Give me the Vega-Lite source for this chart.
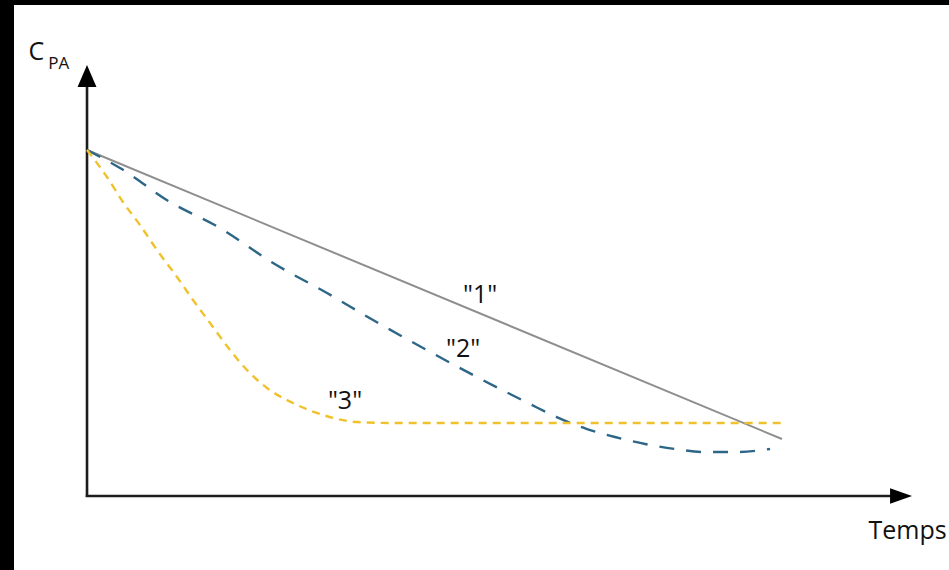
{
  "$schema": "https://vega.github.io/schema/vega-lite/v6.json",
  "width": 940,
  "height": 570,
  "autosize": {"type": "none"},
  "padding": {"left": 14, "top": 5, "right": 0, "bottom": 0},
  "background": "black",
  "config": {"view": {"stroke": null, "fill": "white"}},
  "datasets": {
    "curves": [
      {"serie": "1", "t": 0, "c": 80},
      {"serie": "1", "t": 84.24, "c": 13.18},
      {"serie": "2", "t": 0, "c": 80},
      {"serie": "2", "t": 4.0, "c": 75.84},
      {"serie": "2", "t": 10.06, "c": 67.98},
      {"serie": "2", "t": 16.12, "c": 61.97},
      {"serie": "2", "t": 22.55, "c": 53.87},
      {"serie": "2", "t": 29.09, "c": 46.94},
      {"serie": "2", "t": 34.67, "c": 40.69},
      {"serie": "2", "t": 40.73, "c": 34.22},
      {"serie": "2", "t": 47.27, "c": 27.51},
      {"serie": "2", "t": 53.7, "c": 21.27},
      {"serie": "2", "t": 57.0, "c": 18.2},
      {"serie": "2", "t": 60.61, "c": 15.49},
      {"serie": "2", "t": 64.0, "c": 13.64},
      {"serie": "2", "t": 67.64, "c": 12.02},
      {"serie": "2", "t": 71.27, "c": 10.87},
      {"serie": "2", "t": 74.91, "c": 10.17},
      {"serie": "2", "t": 78.55, "c": 10.17},
      {"serie": "2", "t": 82.79, "c": 10.87},
      {"serie": "3", "t": 0, "c": 80},
      {"serie": "3", "t": 2.42, "c": 73.76},
      {"serie": "3", "t": 4.36, "c": 67.98},
      {"serie": "3", "t": 6.42, "c": 62.66},
      {"serie": "3", "t": 8.48, "c": 56.88},
      {"serie": "3", "t": 10.91, "c": 50.64},
      {"serie": "3", "t": 12.85, "c": 45.32},
      {"serie": "3", "t": 15.27, "c": 39.08},
      {"serie": "3", "t": 17.33, "c": 33.76},
      {"serie": "3", "t": 19.39, "c": 29.13},
      {"serie": "3", "t": 21.82, "c": 24.97},
      {"serie": "3", "t": 24.97, "c": 21.5},
      {"serie": "3", "t": 28.61, "c": 18.73},
      {"serie": "3", "t": 32.73, "c": 17.11},
      {"serie": "3", "t": 37.58, "c": 16.88},
      {"serie": "3", "t": 84.24, "c": 16.88}
    ],
    "axes": [
      {"axe": "y", "t": 0, "c": -0.2},
      {"axe": "y", "t": 0, "c": 95},
      {"axe": "x", "t": -0.15, "c": 0},
      {"axe": "x", "t": 97.5, "c": 0}
    ],
    "heads": [
      {"axe": "y", "t": 0, "c": 97.1},
      {"axe": "x", "t": 98.67, "c": 0}
    ],
    "curveLabels": [
      {"label": "\"1\"", "t": 47.64, "c": 44.62},
      {"label": "\"2\"", "t": 45.58, "c": 32.14},
      {"label": "\"3\"", "t": 31.27, "c": 20.12}
    ],
    "cLabel": [{"label": "C", "t": -7.1, "c": 100.8}],
    "paLabel": [{"label": "PA", "t": -4.7, "c": 98.7}],
    "tempsLabel": [{"label": "Temps", "t": 104.2, "c": -9.94}]
  },
  "encoding": {
    "x": {"field": "t", "type": "quantitative", "scale": {"domain": [-8.85, 105.09], "nice": false, "zero": false}, "axis": null},
    "y": {"field": "c", "type": "quantitative", "scale": {"domain": [-18.26, 113.53], "nice": false, "zero": false}, "axis": null}
  },
  "layer": [
    {
      "data": {"name": "axes"},
      "mark": {"type": "line", "color": "#1c1c1c", "strokeWidth": 2.6, "clip": false},
      "encoding": {"detail": {"field": "axe"}, "order": {"field": "t"}}
    },
    {
      "data": {"name": "heads"},
      "transform": [{"filter": "datum.axe === 'y'"}],
      "mark": {"type": "point", "shape": "M-0.86,1L0,-1L0.86,1Z", "size": 484, "filled": true, "color": "#000000", "opacity": 1, "strokeWidth": 0},
      "encoding": {}
    },
    {
      "data": {"name": "heads"},
      "transform": [{"filter": "datum.axe === 'x'"}],
      "mark": {"type": "point", "shape": "M-1,-0.7L1,0L-1,0.7Z", "size": 484, "filled": true, "color": "#000000", "opacity": 1, "strokeWidth": 0},
      "encoding": {}
    },
    {
      "data": {"name": "curves"},
      "transform": [{"filter": "datum.serie === '1'"}],
      "mark": {"type": "line", "color": "#8e8e8e", "strokeWidth": 2},
      "encoding": {}
    },
    {
      "data": {"name": "curves"},
      "transform": [{"filter": "datum.serie === '2'"}],
      "mark": {"type": "line", "color": "#2d6686", "strokeWidth": 2.4, "strokeDash": [15, 12], "interpolate": "monotone"},
      "encoding": {}
    },
    {
      "data": {"name": "curves"},
      "transform": [{"filter": "datum.serie === '3'"}],
      "mark": {"type": "line", "color": "#f1c12c", "strokeWidth": 2.4, "strokeDash": [8, 6], "interpolate": "monotone"},
      "encoding": {}
    },
    {
      "data": {"name": "curveLabels"},
      "mark": {"type": "text", "font": "Open Sans", "fontSize": 25, "align": "center", "baseline": "alphabetic", "color": "#111111"},
      "encoding": {"text": {"field": "label"}}
    },
    {
      "data": {"name": "cLabel"},
      "mark": {"type": "text", "font": "Open Sans", "fontSize": 25, "align": "left", "baseline": "alphabetic", "color": "#111111"},
      "encoding": {"text": {"field": "label"}}
    },
    {
      "data": {"name": "paLabel"},
      "mark": {"type": "text", "font": "Open Sans", "fontSize": 17, "align": "left", "baseline": "alphabetic", "color": "#111111"},
      "encoding": {"text": {"field": "label"}}
    },
    {
      "data": {"name": "tempsLabel"},
      "mark": {"type": "text", "font": "Open Sans", "fontSize": 25, "align": "right", "baseline": "alphabetic", "color": "#111111"},
      "encoding": {"text": {"field": "label"}}
    }
  ]
}
